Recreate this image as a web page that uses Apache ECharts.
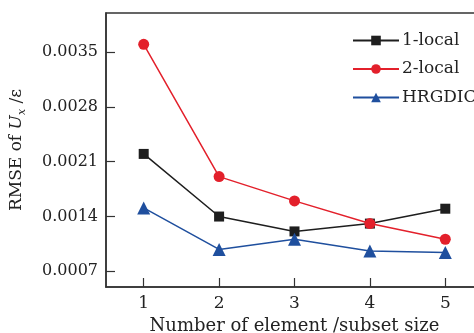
<!DOCTYPE html>
<html>
<head>
<meta charset="utf-8">
<script src="https://cdn.jsdelivr.net/npm/echarts@6/dist/echarts.min.js"></script>
<style>html,body{margin:0;padding:0;background:#fff}#c{width:474px;height:333px}</style>
</head>
<body>
<div id="c"></div>
<script>
var categories = ['1', '2', '3', '4', '5'];
var local1 = [0.0022, 0.00140, 0.00121, 0.00131, 0.00150];
var local2 = [0.00360, 0.00191, 0.00160, 0.00131, 0.00111];
var hrgdic = [0.00151, 0.00098, 0.00111, 0.00096, 0.00094];
var yTicks = [0.0007, 0.0014, 0.0021, 0.0028, 0.0035];

var font = 'DejaVu Serif';
var chart = echarts.init(document.getElementById('c'));
chart.setOption({
  animation: false,
  backgroundColor: '#fff',
  textStyle: { fontFamily: font },
  grid: { left: 106, top: 13, height: 274, width: 377, outerBoundsMode: 'none', containLabel: false,
    show: true, borderColor: '#333', borderWidth: 1.5, backgroundColor: 'transparent' },
  legend: {
    left: 347, top: 27, orient: 'vertical', itemWidth: 46, itemHeight: 12, itemGap: 11.5,
    textStyle: { fontFamily: font, fontSize: 17, color: '#222', padding: [0, 0, 0, -2] },
    data: ['1-local', '2-local', 'HRGDIC']
  },
  xAxis: {
    type: 'category', data: categories, boundaryGap: true,
    axisLine: { show: true, lineStyle: { color: '#333', width: 1.5 } },
    axisTick: { show: true, inside: true, length: 9, alignWithLabel: true, lineStyle: { color: '#333', width: 1.2 } },
    axisLabel: { fontFamily: font, fontSize: 17, color: '#222', margin: 8 },
    name: 'Number of element /subset size', nameLocation: 'middle', nameGap: 30,
    nameTextStyle: { fontFamily: font, fontSize: 18, color: '#222' }
  },
  yAxis: {
    type: 'value', min: 0.0005, max: 0.004,
    splitLine: { show: false },
    axisLine: { show: true, lineStyle: { color: '#333', width: 1.5 } },
    axisTick: { show: true, inside: true, length: 9, customValues: yTicks, lineStyle: { color: '#333', width: 1.2 } },
    axisLabel: { fontFamily: font, fontSize: 16, color: '#222', margin: 8, customValues: yTicks,
      formatter: function (v) { return v.toFixed(4); } },
    name: '{a|RMSE of }{i|U}{s|x}{a| /ε}', nameLocation: 'middle', nameGap: 78, nameRotate: 90,
    nameTextStyle: {
      rich: {
        a: { fontFamily: font, fontSize: 17, color: '#222', lineHeight: 22 },
        i: { fontFamily: font, fontSize: 17, fontStyle: 'italic', color: '#222', lineHeight: 22 },
        s: { fontFamily: font, fontSize: 11, fontStyle: 'italic', color: '#222', verticalAlign: 'bottom', lineHeight: 22, padding: [8, 0, 0, 0] }
      }
    }
  },
  series: [
    { name: '1-local', type: 'line', data: local1, symbol: 'rect', symbolSize: 10,
      itemStyle: { color: '#1e1e1e' }, lineStyle: { color: '#1e1e1e', width: 1.5 } },
    { name: '2-local', type: 'line', data: local2, symbol: 'circle', symbolSize: 11,
      itemStyle: { color: '#e3202b' }, lineStyle: { color: '#e3202b', width: 1.5 } },
    { name: 'HRGDIC', type: 'line', data: hrgdic, symbol: 'triangle', symbolSize: 13,
      itemStyle: { color: '#1f4f9e' }, lineStyle: { color: '#1f4f9e', width: 1.5 } }
  ]
});
</script>
</body>
</html>
